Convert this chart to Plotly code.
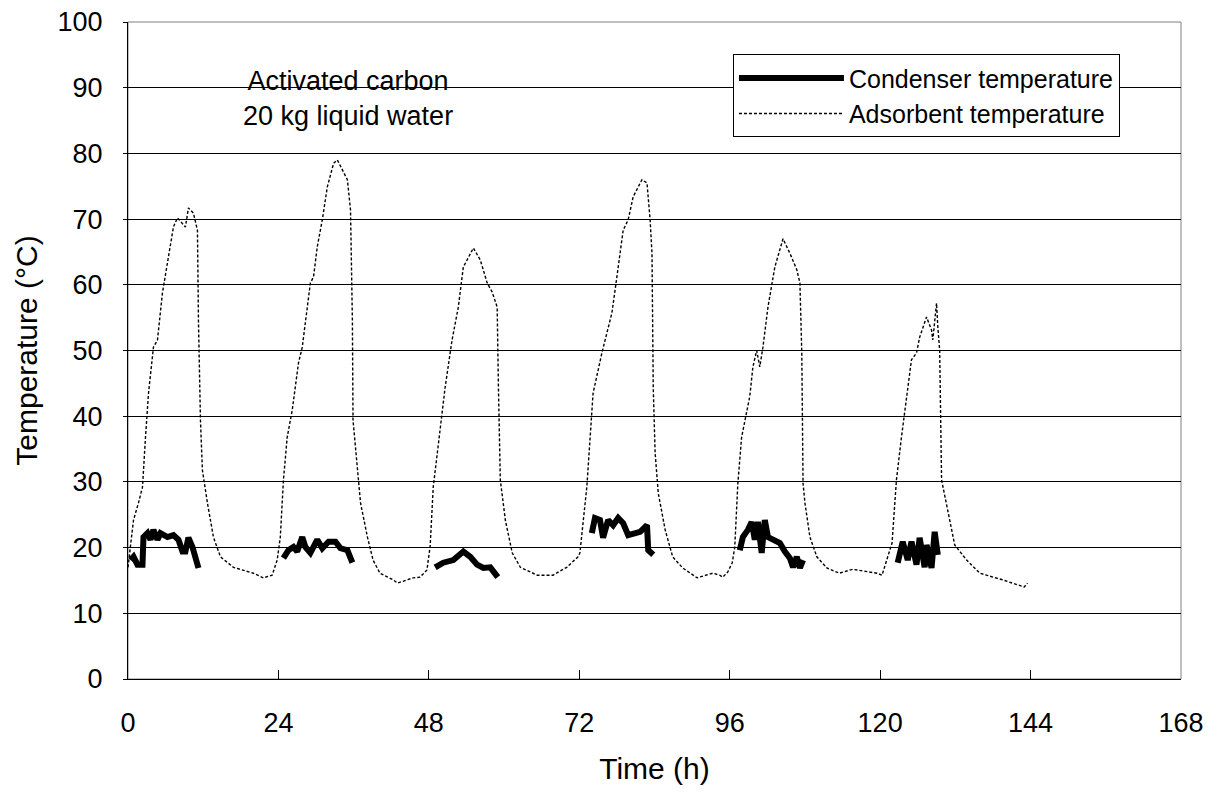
import plotly.graph_objects as go

# ---------------- data ----------------
# Adsorbent temperature (continuous record)
ads_time = [0.0, 0.88, 1.67, 2.31, 2.79, 3.27, 4.06, 4.70, 5.50, 6.30, 7.25, 7.89, 9.16, 9.64, 10.44,
            11.08, 11.24, 11.56, 11.87, 12.67, 13.63, 14.74, 16.82, 20.0, 21.6, 23.0, 23.8, 24.3, 24.8,
            25.4, 26.2, 27.2, 27.8, 29.1, 29.6, 30.2, 31.0, 31.8, 32.8, 33.4, 34.2, 35.0, 35.5, 35.8,
            35.9, 36.6, 37.1, 38.2, 39.1, 40.2, 41.4, 42.3, 43.0, 44.5, 45.5, 46.6, 47.7, 47.9, 48.2,
            48.7, 49.5, 50.6, 51.7, 52.7, 53.5, 55.1, 56.2, 57.3, 58.1, 58.9, 59.1, 59.4, 60.2, 61.3,
            62.6, 65.3, 67.8, 70.0, 71.8, 72.1, 73.2, 74.0, 74.2, 75.6, 76.4, 77.2, 78.0, 79.0, 79.8,
            80.6, 82.0, 82.8, 83.3, 83.6, 83.8, 84.1, 84.6, 85.7, 86.9, 88.5, 90.8, 93.3, 94.4, 94.9,
            95.7, 96.4, 96.8, 97.3, 97.9, 98.7, 99.2, 99.7, 100.3, 100.8, 101.3, 102.1, 103.2, 104.5,
            105.6, 106.7, 107.2, 107.5, 107.7, 108.0, 108.8, 109.9, 111.5, 113.5, 115.6, 119.5, 120.3,
            121.9, 122.6, 123.4, 124.2, 125.0, 125.8, 126.3, 127.4, 128.2, 128.4, 129.0, 129.2, 129.5,
            129.8, 131.1, 131.9, 133.8, 135.9, 139.5, 143.0, 143.5]
ads_temp = [17.0, 24.2, 26.8, 29.2, 36.8, 43.5, 50.5, 51.6, 58.8, 63.3, 68.8, 70.2, 68.8, 71.7, 70.9,
            68.3, 54.6, 39.4, 31.8, 26.8, 21.6, 18.6, 17.0, 16.1, 15.4, 15.8, 18.1, 21.6, 30.3,
            36.8, 40.9, 48.1, 50.5, 60.3, 61.2, 65.8, 69.9, 74.9, 78.5, 79.0, 77.5, 76.0, 71.4, 54.6,
            39.4, 31.8, 26.8, 21.6, 18.1, 16.1, 15.5, 15.1, 14.6, 15.1, 15.4, 15.5, 16.6, 18.1, 20.1,
            29.2, 35.3, 44.4, 51.6, 56.6, 62.7, 65.6, 63.8, 60.3, 58.9, 56.6, 44.4, 30.3, 24.2, 19.2,
            17.0, 15.8, 15.8, 17.0, 18.6, 19.2, 29.2, 40.5, 43.5, 49.6, 52.7, 55.7, 61.2, 68.3, 69.9,
            73.4, 76.0, 75.5, 69.9, 64.8, 44.4, 34.4, 28.3, 22.7, 18.6, 16.9, 15.4, 16.1, 15.8, 15.5,
            16.3, 17.7, 20.0, 29.8, 36.8, 40.5, 43.0, 47.5, 50.0, 47.5, 50.5, 56.6, 62.7, 67.0,
            64.8, 62.3, 60.3, 49.6, 29.8, 26.8, 21.6, 18.6, 16.9, 16.1, 16.7, 16.1, 15.8,
            20.7, 30.3, 36.8, 42.5, 48.6, 49.6, 52.0, 55.1, 53.1, 51.6, 57.2, 53.6, 50.0,
            30.3, 24.2, 20.4, 18.1, 16.1, 15.1, 14.0, 14.6]

# Condenser temperature (six recorded periods, gaps between them)
cond_time_1 = [0.4, 0.88, 1.51, 2.31, 2.47, 3.11, 3.59, 4.06, 4.70, 5.18, 6.30, 7.25, 8.05, 8.69, 9.16, 9.64, 10.28, 10.76, 11.24]
cond_temp_1 = [18.1, 18.6, 17.4, 17.4, 21.6, 22.2, 21.2, 22.7, 21.2, 22.2, 21.6, 21.9, 21.2, 19.4, 19.4, 21.5, 20.1, 18.4, 16.9]
cond_time_2 = [24.8, 25.6, 26.4, 27.0, 27.8, 28.3, 29.1, 30.2, 31.0, 32.0, 33.1, 33.9, 35.0, 35.8]
cond_temp_2 = [18.4, 19.6, 20.1, 19.4, 21.6, 20.1, 19.2, 21.2, 19.9, 20.9, 20.9, 19.9, 19.6, 17.7]
cond_time_3 = [49.0, 50.3, 51.9, 53.5, 54.6, 55.7, 56.7, 57.8, 59.0]
cond_temp_3 = [17.0, 17.7, 18.1, 19.4, 18.6, 17.4, 16.9, 17.0, 15.5]
cond_time_4 = [74.0, 74.5, 75.3, 75.8, 76.6, 77.4, 78.2, 79.0, 79.8, 80.9, 81.7, 82.8, 83.0, 83.8]
cond_temp_4 = [22.2, 24.5, 24.2, 21.5, 24.2, 23.4, 24.5, 23.7, 21.9, 22.2, 22.4, 23.4, 19.6, 18.9]
cond_time_5 = [97.6, 98.1, 98.9, 99.5, 100.0, 100.5, 101.1, 101.6, 102.1, 103.2, 104.0, 104.8, 105.6, 106.1, 106.7, 107.2, 107.7]
cond_temp_5 = [19.6, 21.6, 22.7, 23.9, 21.2, 23.9, 19.2, 24.2, 21.6, 21.2, 20.7, 19.4, 18.4, 17.0, 18.6, 16.9, 18.1]
cond_time_6 = [122.8, 123.6, 124.4, 125.0, 125.8, 126.3, 127.1, 127.4, 128.2, 128.7, 129.2]
cond_temp_6 = [17.7, 20.9, 18.1, 20.9, 17.4, 21.5, 17.0, 20.4, 16.9, 22.4, 18.9]

x_ticks = [0, 24, 48, 72, 96, 120, 144, 168]
y_ticks = [0, 10, 20, 30, 40, 50, 60, 70, 80, 90, 100]

series_names = ["Condenser temperature", "Adsorbent temperature"]
note_lines = ["Activated carbon", "20 kg liquid water"]

# ---------------- build ----------------
cond_time, cond_temp = [], []
for t, v in [(cond_time_1, cond_temp_1), (cond_time_2, cond_temp_2), (cond_time_3, cond_temp_3),
             (cond_time_4, cond_temp_4), (cond_time_5, cond_temp_5), (cond_time_6, cond_temp_6)]:
    cond_time += t + [None]
    cond_temp += v + [None]

FONT = "Liberation Sans, Arial, sans-serif"

fig = go.Figure()
fig.add_trace(go.Scatter(x=cond_time, y=cond_temp, mode="lines", name=series_names[0],
                         line=dict(color="black", width=6), connectgaps=False))
fig.add_trace(go.Scatter(x=ads_time, y=ads_temp, mode="lines", name=series_names[1],
                         line=dict(color="black", width=1.4, dash="3px,2px")))

fig.add_annotation(x=35.1, y=88.4, xref="x", yref="y", text="<br>".join(note_lines),
                   showarrow=False, font=dict(family=FONT, size=27, color="black"),
                   align="center")

fig.update_layout(
    width=1225, height=794,
    margin=dict(l=127.5, r=43.5, t=22, b=115, autoexpand=False),
    paper_bgcolor="white", plot_bgcolor="white",
    font=dict(family=FONT, color="black"),
    showlegend=True,
    legend=dict(x=0.5745, y=0.951, xanchor="left", yanchor="top",
                bgcolor="white", bordercolor="black", borderwidth=1,
                font=dict(family=FONT, size=25, color="black"),
                itemwidth=105, tracegroupgap=0),
    shapes=[dict(type="rect", xref="paper", yref="paper", x0=0, x1=1, y0=0, y1=1,
                 line=dict(color="#808080", width=1), layer="below")],
)

fig.update_xaxes(range=[0, 168], tickvals=x_ticks, ticks="inside", ticklen=9, tickcolor="black",
                 showline=True, linecolor="black", linewidth=1, showgrid=False, zeroline=False,
                 tickfont=dict(family=FONT, size=27, color="black"), ticklabelstandoff=20,
                 title=dict(text="Time (h)", font=dict(family=FONT, size=30, color="black"), standoff=20))
fig.update_yaxes(range=[0, 100], tickvals=y_ticks, ticks="outside", ticklen=4, tickcolor="black",
                 showline=True, linecolor="black", linewidth=1, showgrid=True, gridcolor="black",
                 gridwidth=1, zeroline=False,
                 tickfont=dict(family=FONT, size=27, color="black"), ticklabelstandoff=15,
                 title=dict(text="Temperature (°C)", font=dict(family=FONT, size=30, color="black"), standoff=11))

fig.write_html("out.html")
